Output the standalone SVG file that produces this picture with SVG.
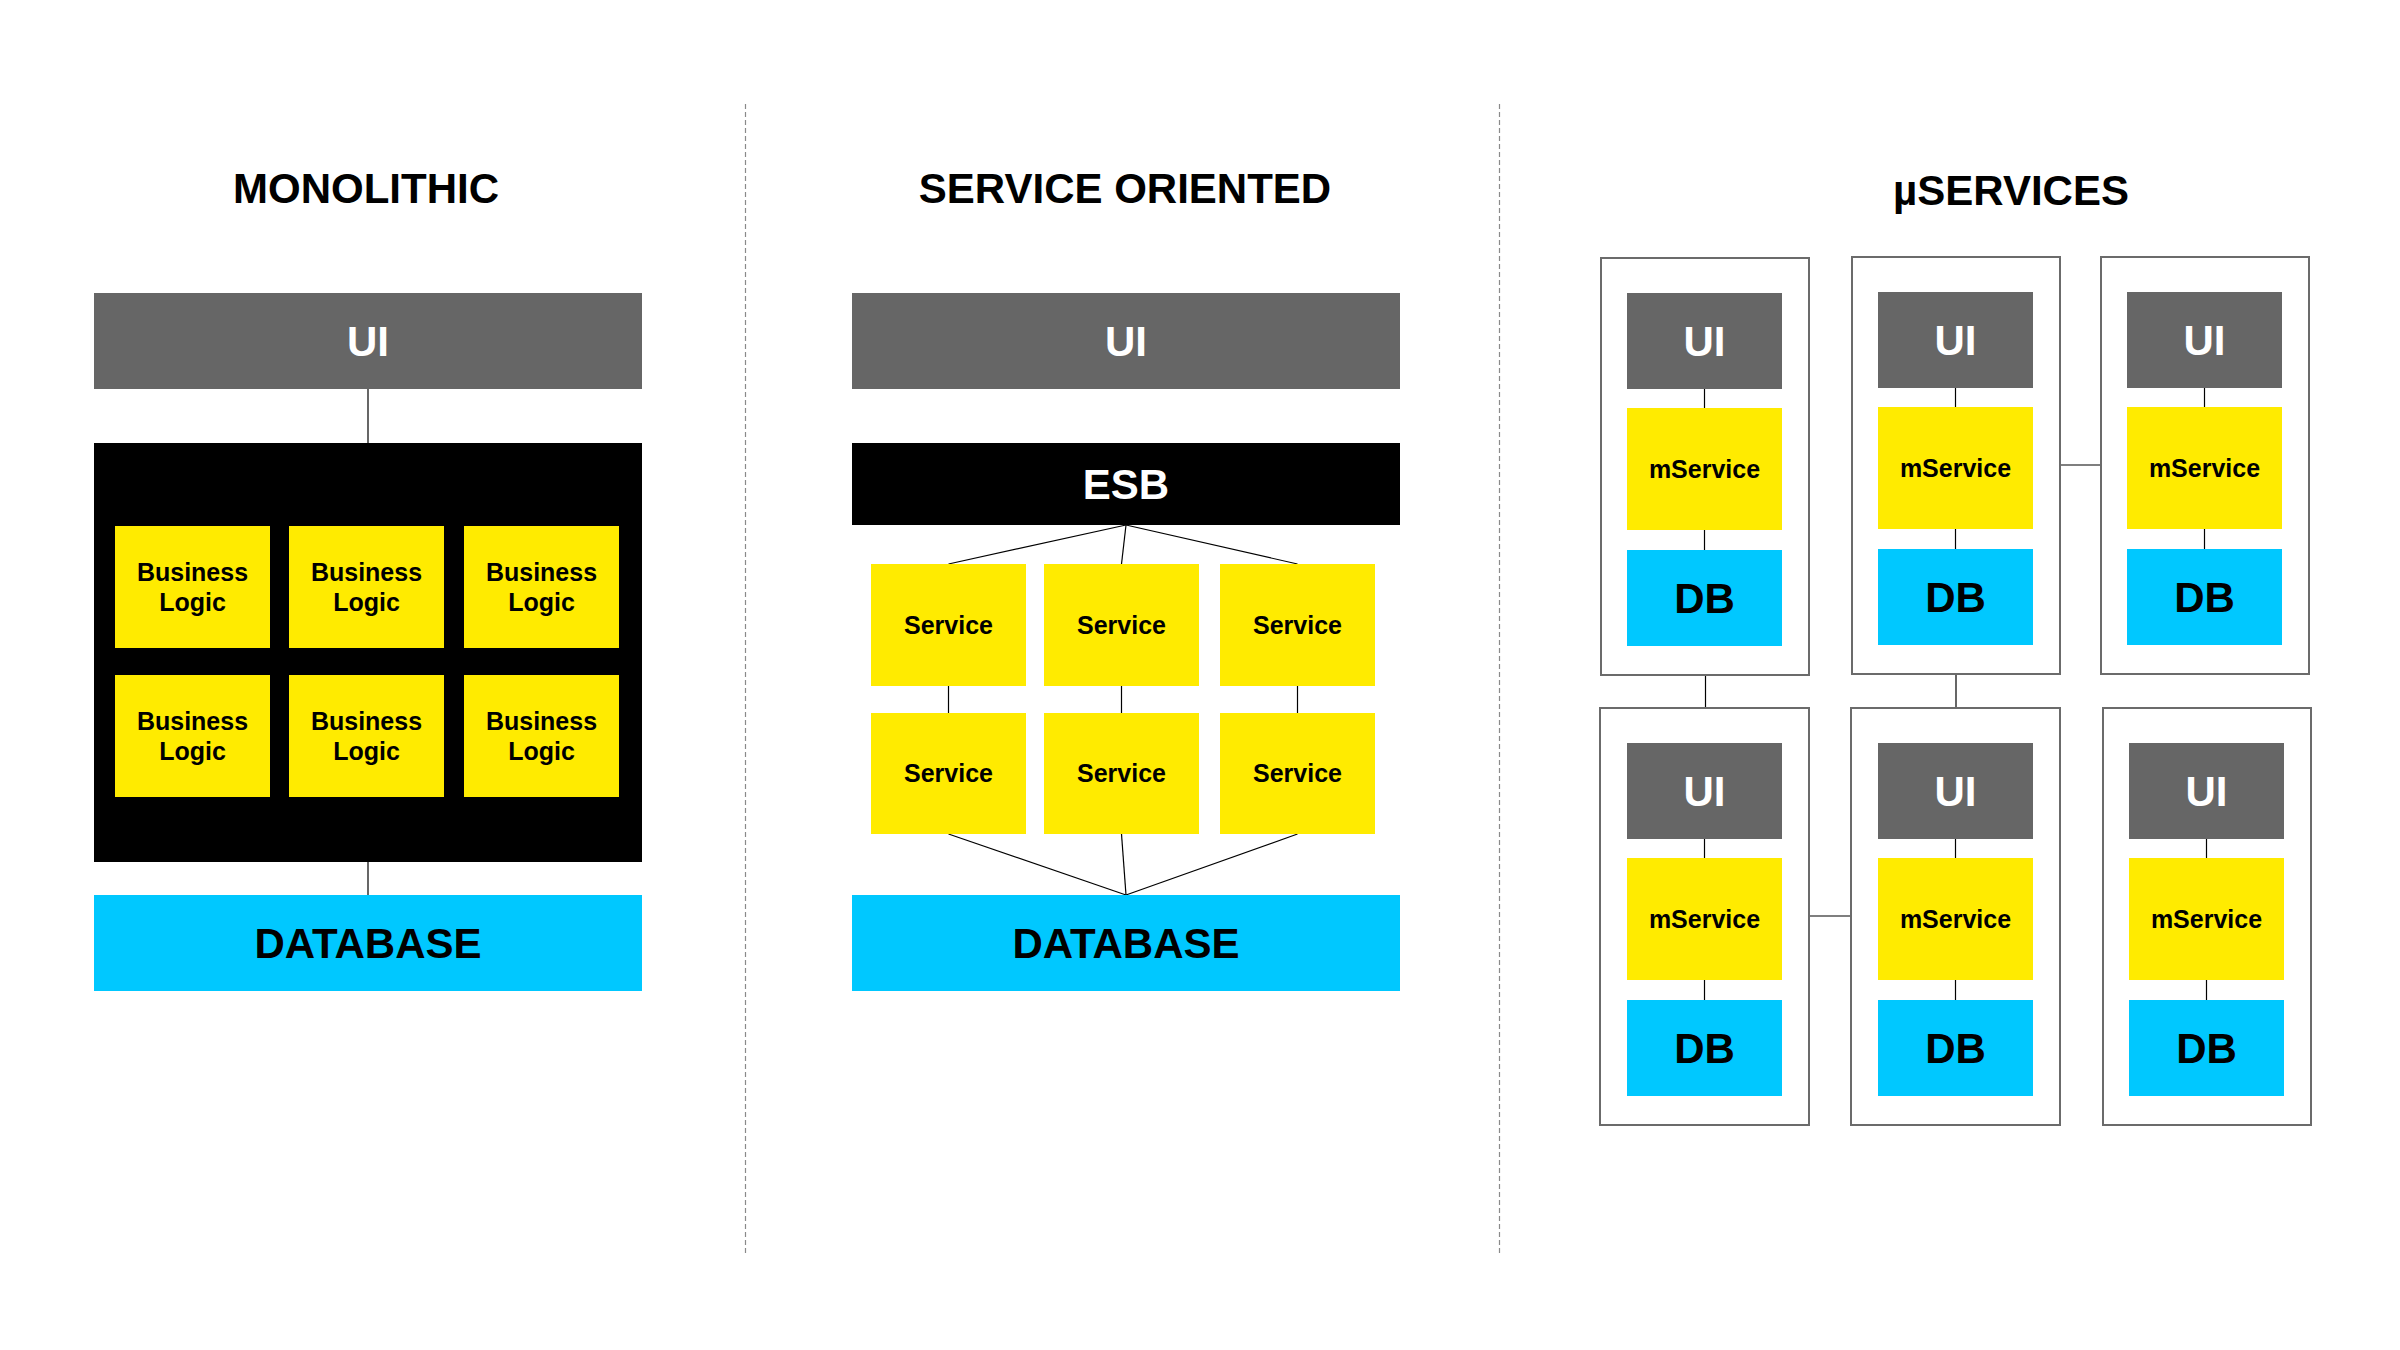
<svg xmlns="http://www.w3.org/2000/svg" width="2400" height="1350" viewBox="0 0 2400 1350">
<style>
text{font-family:"Liberation Sans",Arial,sans-serif;font-weight:bold;text-anchor:middle}
.title{font-size:42px;fill:#000}
.big{font-size:42px}
.small{font-size:25px;fill:#000}
.ui{fill:#666666}
.ui-t{fill:#ffffff}
.blk{fill:#000000}
.yel{fill:#FFEB00}
.db{fill:#00C8FF}
.dbt{fill:#000}
.outer{fill:#ffffff;stroke:#6b6b6b;stroke-width:2}
.conn line{stroke:#000;stroke-width:1.2}
.div{stroke:#8a8a8a;stroke-width:1.2;stroke-dasharray:5 3}
</style>
<rect x="0" y="0" width="2400" height="1350" fill="#ffffff"/>

<g id="dividers">
<line class="div" x1="745.5" y1="104" x2="745.5" y2="1254"/>
<line class="div" x1="1499.5" y1="104" x2="1499.5" y2="1254"/>
</g>

<g id="titles">
<text class="title" x="366" y="203">MONOLITHIC</text>
<text class="title" x="1125" y="203">SERVICE ORIENTED</text>
<text class="title" x="2011" y="205">µSERVICES</text>
</g>

<g id="µ-outer">
<rect id="ms-box1" class="outer" x="1601" y="258" width="208" height="417"/>
<rect id="ms-box2" class="outer" x="1852" y="257" width="208" height="417"/>
<rect id="ms-box3" class="outer" x="2101" y="257" width="208" height="417"/>
<rect id="ms-box4" class="outer" x="1600" y="708" width="209" height="417"/>
<rect id="ms-box5" class="outer" x="1851" y="708" width="209" height="417"/>
<rect id="ms-box6" class="outer" x="2103" y="708" width="208" height="417"/>
</g>

<g id="connectors" class="conn">
<line x1="368" y1="389" x2="368" y2="443"/>
<line x1="368" y1="862" x2="368" y2="895"/>
<line x1="1126" y1="525" x2="948.5" y2="564"/>
<line x1="1126" y1="525" x2="1121.5" y2="564"/>
<line x1="1126" y1="525" x2="1297.5" y2="564"/>
<line x1="948.5" y1="686" x2="948.5" y2="713"/>
<line x1="1121.5" y1="686" x2="1121.5" y2="713"/>
<line x1="1297.5" y1="686" x2="1297.5" y2="713"/>
<line x1="948.5" y1="834" x2="1126" y2="895"/>
<line x1="1121.5" y1="834" x2="1126" y2="895"/>
<line x1="1297.5" y1="834" x2="1126" y2="895"/>
<line x1="1704.5" y1="389" x2="1704.5" y2="408"/>
<line x1="1704.5" y1="530" x2="1704.5" y2="550"/>
<line x1="1955.5" y1="388" x2="1955.5" y2="407"/>
<line x1="1955.5" y1="529" x2="1955.5" y2="549"/>
<line x1="2204.5" y1="388" x2="2204.5" y2="407"/>
<line x1="2204.5" y1="529" x2="2204.5" y2="549"/>
<line x1="1704.5" y1="839" x2="1704.5" y2="858"/>
<line x1="1704.5" y1="980" x2="1704.5" y2="1000"/>
<line x1="1955.5" y1="839" x2="1955.5" y2="858"/>
<line x1="1955.5" y1="980" x2="1955.5" y2="1000"/>
<line x1="2206.5" y1="839" x2="2206.5" y2="858"/>
<line x1="2206.5" y1="980" x2="2206.5" y2="1000"/>
<line x1="1705.5" y1="676" x2="1705.5" y2="707"/>
<line x1="1956" y1="675" x2="1956" y2="707"/>
<line x1="2061" y1="465" x2="2100" y2="465"/>
<line x1="1810" y1="916" x2="1850" y2="916"/>
</g>

<g id="mono-ui"><rect class="ui" x="94" y="293" width="548" height="96"/><text class="big ui-t" x="368" y="356">UI</text></g>
<g id="mono-core"><rect class="blk" x="94" y="443" width="548" height="419"/></g>
<g id="bl1"><rect class="yel" x="115" y="526" width="155" height="122"/><text class="small" x="192.5" y="581">Business</text><text class="small" x="192.5" y="611">Logic</text></g>
<g id="bl2"><rect class="yel" x="289" y="526" width="155" height="122"/><text class="small" x="366.5" y="581">Business</text><text class="small" x="366.5" y="611">Logic</text></g>
<g id="bl3"><rect class="yel" x="464" y="526" width="155" height="122"/><text class="small" x="541.5" y="581">Business</text><text class="small" x="541.5" y="611">Logic</text></g>
<g id="bl4"><rect class="yel" x="115" y="675" width="155" height="122"/><text class="small" x="192.5" y="730">Business</text><text class="small" x="192.5" y="760">Logic</text></g>
<g id="bl5"><rect class="yel" x="289" y="675" width="155" height="122"/><text class="small" x="366.5" y="730">Business</text><text class="small" x="366.5" y="760">Logic</text></g>
<g id="bl6"><rect class="yel" x="464" y="675" width="155" height="122"/><text class="small" x="541.5" y="730">Business</text><text class="small" x="541.5" y="760">Logic</text></g>
<g id="mono-db"><rect class="db" x="94" y="895" width="548" height="96"/><text class="big dbt" x="368" y="958">DATABASE</text></g>

<g id="soa-ui"><rect class="ui" x="852" y="293" width="548" height="96"/><text class="big ui-t" x="1126" y="356">UI</text></g>
<g id="soa-esb"><rect class="blk" x="852" y="443" width="548" height="82"/><text class="big ui-t" x="1126" y="499">ESB</text></g>
<g id="svc1"><rect class="yel" x="871" y="564" width="155" height="122"/><text class="small" x="948.5" y="634">Service</text></g>
<g id="svc2"><rect class="yel" x="1044" y="564" width="155" height="122"/><text class="small" x="1121.5" y="634">Service</text></g>
<g id="svc3"><rect class="yel" x="1220" y="564" width="155" height="122"/><text class="small" x="1297.5" y="634">Service</text></g>
<g id="svc4"><rect class="yel" x="871" y="713" width="155" height="121"/><text class="small" x="948.5" y="782">Service</text></g>
<g id="svc5"><rect class="yel" x="1044" y="713" width="155" height="121"/><text class="small" x="1121.5" y="782">Service</text></g>
<g id="svc6"><rect class="yel" x="1220" y="713" width="155" height="121"/><text class="small" x="1297.5" y="782">Service</text></g>
<g id="soa-db"><rect class="db" x="852" y="895" width="548" height="96"/><text class="big dbt" x="1126" y="958">DATABASE</text></g>

<g id="ms1">
<rect class="ui" x="1627" y="293" width="155" height="96"/><text class="big ui-t" x="1704.5" y="356">UI</text>
<rect class="yel" x="1627" y="408" width="155" height="122"/><text class="small" x="1704.5" y="478">mService</text>
<rect class="db" x="1627" y="550" width="155" height="96"/><text class="big dbt" x="1704.5" y="613">DB</text>
</g>
<g id="ms2">
<rect class="ui" x="1878" y="292" width="155" height="96"/><text class="big ui-t" x="1955.5" y="355">UI</text>
<rect class="yel" x="1878" y="407" width="155" height="122"/><text class="small" x="1955.5" y="477">mService</text>
<rect class="db" x="1878" y="549" width="155" height="96"/><text class="big dbt" x="1955.5" y="612">DB</text>
</g>
<g id="ms3">
<rect class="ui" x="2127" y="292" width="155" height="96"/><text class="big ui-t" x="2204.5" y="355">UI</text>
<rect class="yel" x="2127" y="407" width="155" height="122"/><text class="small" x="2204.5" y="477">mService</text>
<rect class="db" x="2127" y="549" width="155" height="96"/><text class="big dbt" x="2204.5" y="612">DB</text>
</g>
<g id="ms4">
<rect class="ui" x="1627" y="743" width="155" height="96"/><text class="big ui-t" x="1704.5" y="806">UI</text>
<rect class="yel" x="1627" y="858" width="155" height="122"/><text class="small" x="1704.5" y="928">mService</text>
<rect class="db" x="1627" y="1000" width="155" height="96"/><text class="big dbt" x="1704.5" y="1063">DB</text>
</g>
<g id="ms5">
<rect class="ui" x="1878" y="743" width="155" height="96"/><text class="big ui-t" x="1955.5" y="806">UI</text>
<rect class="yel" x="1878" y="858" width="155" height="122"/><text class="small" x="1955.5" y="928">mService</text>
<rect class="db" x="1878" y="1000" width="155" height="96"/><text class="big dbt" x="1955.5" y="1063">DB</text>
</g>
<g id="ms6">
<rect class="ui" x="2129" y="743" width="155" height="96"/><text class="big ui-t" x="2206.5" y="806">UI</text>
<rect class="yel" x="2129" y="858" width="155" height="122"/><text class="small" x="2206.5" y="928">mService</text>
<rect class="db" x="2129" y="1000" width="155" height="96"/><text class="big dbt" x="2206.5" y="1063">DB</text>
</g>
</svg>
